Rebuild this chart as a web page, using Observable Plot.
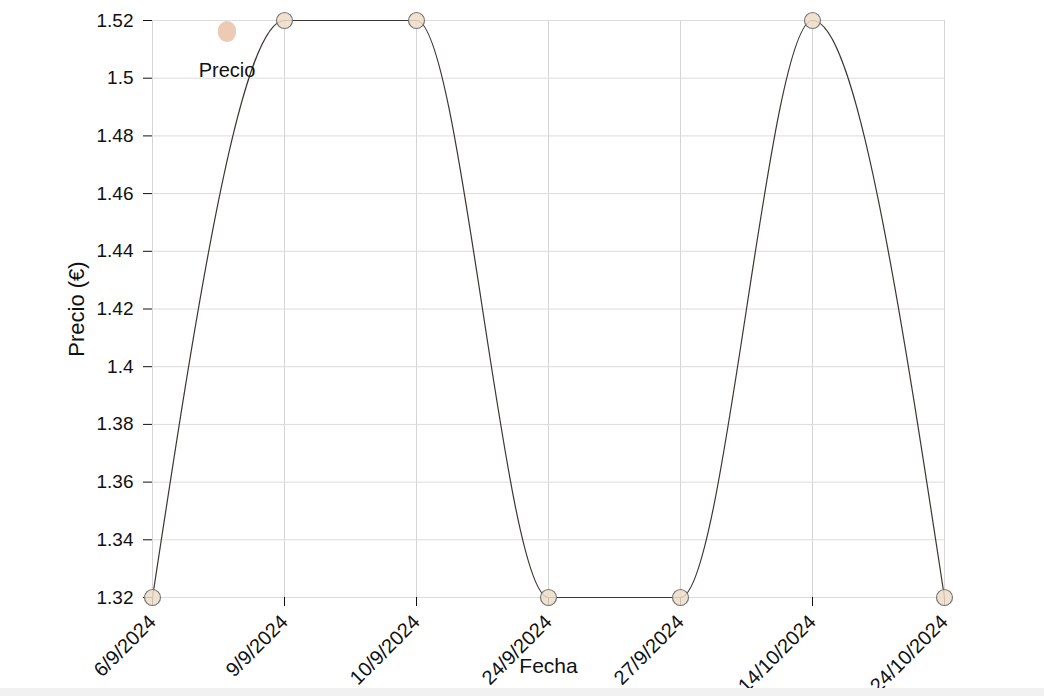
<!DOCTYPE html>
<html>
<head>
<meta charset="utf-8">
<script src="https://cdn.jsdelivr.net/npm/d3@7"></script>
<script src="https://cdn.jsdelivr.net/npm/@observablehq/plot@0.6"></script>
<style>
  html, body { margin: 0; padding: 0; background: #f1f1f1; }
  #wrap { position: relative; width: 1044px; height: 688px; background: #fff; overflow: hidden; }
  #legend { position: absolute; left: 190px; top: 21px; width: 74px; text-align: center;
            font-family: "Liberation Sans", Arial, sans-serif; font-size: 20px; color: #111; }
  #legend .sw { width: 18px; height: 21px; border-radius: 9px; background: #eccab4; margin: 0 auto 17px auto; }
</style>
</head>
<body>
<div id="wrap">
  <div id="chart"></div>
  <div id="legend"><div class="sw"></div>Precio</div>
</div>
<script>
const dates = ["6/9/2024", "9/9/2024", "10/9/2024", "24/9/2024", "27/9/2024", "14/10/2024", "24/10/2024"];
const prices = [1.32, 1.52, 1.52, 1.32, 1.32, 1.52, 1.32];
const yTicks = [1.32, 1.34, 1.36, 1.38, 1.40, 1.42, 1.44, 1.46, 1.48, 1.50, 1.52];

const data = dates.map((d, i) => ({fecha: d, precio: prices[i]}));

const chart = Plot.plot({
  width: 1044,
  height: 688,
  marginLeft: 152,
  marginRight: 100,
  marginTop: 20,
  marginBottom: 91,
  x: {type: "point", domain: dates, padding: 0, label: null},
  y: {domain: [1.32, 1.52], label: null},
  style: {fontFamily: "Liberation Sans, Arial, sans-serif", fontSize: "19px", color: "#111", background: "#fff", overflow: "visible"},
  marks: [
    Plot.gridX(dates, {stroke: "#d4d4d4", strokeOpacity: 1}),
    Plot.gridY(yTicks, {stroke: "#dcdcdc", strokeOpacity: 1}),
    Plot.axisY({ticks: yTicks, tickSize: 9, tickPadding: 10, tickFormat: d => String(+d.toFixed(2)), label: null, fontSize: 19}),
    Plot.axisX({tickSize: 9, tickPadding: 12, tickRotate: -45, label: null, fontSize: 20}),
    Plot.line(data, {x: "fecha", y: "precio", curve: "monotone-x", stroke: "#3d3531", strokeWidth: 1.2}),
    Plot.dot(data, {x: "fecha", y: "precio", r: 8, fill: "#efdcc8", fillOpacity: 0.85, stroke: "#777", strokeWidth: 1.2}),
    Plot.text(["Fecha"], {frameAnchor: "bottom", dy: 75, fontSize: 21, fill: "#111"}),
    Plot.text(["Precio (€)"], {frameAnchor: "left", textAnchor: "middle", dx: -76, dy: 0, rotate: -90, fontSize: 22, fill: "#111"})
  ]
});
document.getElementById("chart").appendChild(chart);
</script>
</body>
</html>
